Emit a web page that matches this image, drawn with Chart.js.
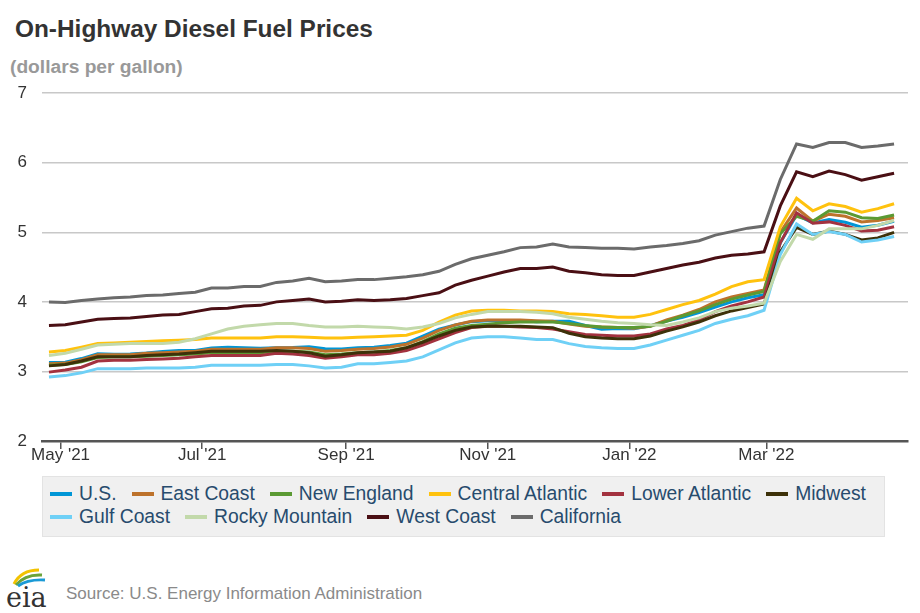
<!DOCTYPE html>
<html>
<head>
<meta charset="utf-8">
<script src="https://cdn.jsdelivr.net/npm/chart.js@4.4.1/dist/chart.umd.min.js"></script>
<style>
  html, body { margin: 0; padding: 0; background: #fff; }
  #wrap { position: relative; width: 920px; height: 613px; overflow: hidden; font-family: "Liberation Sans", Arial, sans-serif; }
  #title { position: absolute; left: 15px; top: 16.5px; font-size: 24.4px; line-height: 24px; font-weight: bold; color: #333; white-space: nowrap; }
  #subtitle { position: absolute; left: 10px; top: 57px; font-size: 19.2px; line-height: 20px; font-weight: bold; color: #999; white-space: nowrap; }
  #chartBox { position: absolute; left: 0; top: 68px; width: 920px; height: 403px; }
  #legend { position: absolute; left: 42px; top: 476px; width: 843px; height: 61px; box-sizing: border-box; background: #f0f0f0; border: 1px solid #e3e3e3; padding: 5px 0 0 7px; display: flex; flex-wrap: wrap; align-content: flex-start; column-gap: 15px; }
  .item { display: flex; align-items: center; height: 23px; font-size: 19.3px; color: #274b6d; white-space: nowrap; }
  .sw { width: 22px; height: 4px; margin-right: 7px; }
  #source { position: absolute; left: 66px; top: 584.5px; font-size: 17px; line-height: 17px; color: #8a8a8a; white-space: nowrap; }
  #logo { position: absolute; left: 5px; top: 564px; }
</style>
</head>
<body>
<div id="wrap">
  <div id="title">On-Highway Diesel Fuel Prices</div>
  <div id="subtitle">(dollars per gallon)</div>
  <div id="chartBox"><canvas id="c"></canvas></div>
  <div id="legend"></div>
  <svg id="logo" width="46" height="46" viewBox="0 0 46 46">
    <path d="M9 20 Q16 6 34 6" stroke="#f2c200" stroke-width="3" fill="none"/>
    <path d="M11 21 Q20 10 37 11" stroke="#6aa33a" stroke-width="3" fill="none"/>
    <path d="M13 22 Q23 15 40 16" stroke="#1a9ad6" stroke-width="3" fill="none"/>
    <text x="1" y="43" font-family="DejaVu Serif, Liberation Serif, serif" font-size="27" fill="#333">eia</text>
  </svg>
  <div id="source">Source: U.S. Energy Information Administration</div>
</div>
<script>
// ---- data ----
const weekDates = [
  '2021-04-26','2021-05-03','2021-05-10','2021-05-17','2021-05-24','2021-05-31','2021-06-07','2021-06-14','2021-06-21','2021-06-28',
  '2021-07-05','2021-07-12','2021-07-19','2021-07-26','2021-08-02','2021-08-09','2021-08-16','2021-08-23','2021-08-30','2021-09-06',
  '2021-09-13','2021-09-20','2021-09-27','2021-10-04','2021-10-11','2021-10-18','2021-10-25','2021-11-01','2021-11-08','2021-11-15',
  '2021-11-22','2021-11-29','2021-12-06','2021-12-13','2021-12-20','2021-12-27','2022-01-03','2022-01-10','2022-01-17','2022-01-24',
  '2022-01-31','2022-02-07','2022-02-14','2022-02-21','2022-02-28','2022-03-07','2022-03-14','2022-03-21','2022-03-28','2022-04-04',
  '2022-04-11','2022-04-18','2022-04-25'
];

const usValues = [3.130,3.131,3.185,3.253,3.247,3.250,3.264,3.286,3.300,3.300,
  3.338,3.346,3.339,3.334,3.339,3.344,3.356,3.327,3.324,3.339,
  3.348,3.374,3.406,3.506,3.609,3.667,3.716,3.727,3.730,3.734,
  3.715,3.721,3.721,3.660,3.608,3.617,3.613,3.657,3.725,3.780,
  3.846,3.924,4.000,4.060,4.104,4.849,5.250,5.134,5.185,5.144,
  5.073,5.101,5.160];
const eastCoast = [3.11,3.12,3.17,3.24,3.24,3.24,3.26,3.27,3.28,3.29,
  3.32,3.32,3.32,3.32,3.34,3.34,3.33,3.29,3.30,3.32,
  3.33,3.35,3.39,3.48,3.59,3.67,3.72,3.74,3.74,3.74,
  3.73,3.72,3.68,3.65,3.64,3.63,3.62,3.65,3.74,3.81,
  3.89,4.00,4.07,4.12,4.17,5.00,5.35,5.16,5.26,5.23,
  5.15,5.17,5.21];
const newEngland = [3.09,3.10,3.14,3.20,3.21,3.21,3.22,3.23,3.24,3.25,
  3.27,3.27,3.27,3.27,3.29,3.29,3.28,3.24,3.25,3.27,
  3.28,3.30,3.34,3.43,3.54,3.62,3.66,3.68,3.70,3.71,
  3.71,3.71,3.69,3.66,3.64,3.63,3.63,3.65,3.72,3.80,
  3.87,3.96,4.04,4.10,4.15,4.98,5.23,5.16,5.31,5.29,
  5.21,5.20,5.25];
const centralAtlantic = [3.28,3.30,3.35,3.40,3.41,3.42,3.43,3.44,3.45,3.46,
  3.48,3.48,3.48,3.48,3.50,3.50,3.49,3.48,3.48,3.49,
  3.50,3.51,3.52,3.59,3.71,3.81,3.87,3.88,3.88,3.87,
  3.87,3.86,3.83,3.82,3.80,3.78,3.78,3.82,3.89,3.96,
  4.02,4.11,4.22,4.29,4.32,5.08,5.49,5.31,5.41,5.37,
  5.29,5.34,5.41];
const lowerAtlantic = [2.99,3.02,3.06,3.15,3.16,3.16,3.17,3.18,3.19,3.21,
  3.23,3.23,3.23,3.23,3.26,3.25,3.23,3.19,3.21,3.24,
  3.24,3.26,3.30,3.38,3.47,3.56,3.63,3.65,3.65,3.64,
  3.63,3.61,3.57,3.53,3.52,3.51,3.51,3.54,3.61,3.66,
  3.74,3.86,3.94,4.00,4.07,4.85,5.28,5.13,5.15,5.10,
  5.02,5.03,5.08];
const midwest = [3.08,3.10,3.15,3.21,3.21,3.21,3.23,3.24,3.25,3.27,
  3.29,3.29,3.29,3.29,3.30,3.29,3.27,3.22,3.24,3.27,
  3.28,3.29,3.34,3.42,3.51,3.59,3.64,3.65,3.65,3.65,
  3.64,3.63,3.55,3.50,3.48,3.47,3.47,3.51,3.58,3.64,
  3.71,3.80,3.87,3.92,3.97,4.72,5.07,4.97,5.02,4.97,
  4.89,4.92,5.00];
const gulfCoast = [2.92,2.94,2.98,3.04,3.04,3.04,3.05,3.05,3.05,3.06,
  3.09,3.09,3.09,3.09,3.10,3.10,3.08,3.05,3.06,3.11,
  3.11,3.13,3.15,3.21,3.31,3.41,3.48,3.50,3.50,3.48,
  3.46,3.46,3.40,3.36,3.34,3.33,3.33,3.38,3.45,3.52,
  3.59,3.69,3.75,3.80,3.88,4.68,5.12,4.97,5.01,4.97,
  4.86,4.89,4.94];
const rockyMountain = [3.23,3.26,3.32,3.38,3.39,3.40,3.40,3.40,3.42,3.47,
  3.54,3.61,3.65,3.67,3.69,3.69,3.66,3.64,3.64,3.65,
  3.64,3.63,3.61,3.64,3.69,3.77,3.82,3.86,3.86,3.86,
  3.85,3.83,3.78,3.75,3.72,3.70,3.69,3.67,3.66,3.71,
  3.77,3.86,3.91,3.94,3.98,4.58,4.97,4.90,5.05,5.05,
  5.05,5.10,5.17];
const westCoast = [3.66,3.67,3.71,3.75,3.76,3.77,3.79,3.81,3.82,3.86,
  3.90,3.91,3.94,3.95,4.00,4.02,4.04,4.00,4.01,4.03,
  4.02,4.03,4.05,4.09,4.13,4.24,4.31,4.37,4.43,4.48,
  4.48,4.50,4.44,4.42,4.39,4.38,4.38,4.43,4.48,4.53,
  4.57,4.63,4.67,4.69,4.72,5.38,5.87,5.80,5.88,5.83,
  5.75,5.80,5.85];
const california = [4.00,3.99,4.02,4.04,4.06,4.07,4.09,4.10,4.12,4.14,
  4.20,4.20,4.22,4.22,4.28,4.30,4.34,4.29,4.30,4.32,
  4.32,4.34,4.36,4.39,4.44,4.54,4.62,4.67,4.72,4.78,
  4.79,4.83,4.79,4.78,4.77,4.77,4.76,4.79,4.81,4.84,
  4.88,4.96,5.01,5.06,5.09,5.76,6.27,6.22,6.29,6.29,
  6.22,6.24,6.27];

const seriesNames = ['U.S.','East Coast','New England','Central Atlantic','Lower Atlantic','Midwest','Gulf Coast','Rocky Mountain','West Coast','California'];
const seriesValues = [usValues,eastCoast,newEngland,centralAtlantic,lowerAtlantic,midwest,gulfCoast,rockyMountain,westCoast,california];
const seriesColors = ['#0096d6','#bd722b','#5b9a33','#ffc20e','#a3323f','#3d3109','#6fd0f6','#c2d9aa','#4a0f14','#6b6b6b'];

const tickDates = ['2021-05-01','2021-07-01','2021-09-01','2021-11-01','2022-01-01','2022-03-01'];
const tickLabels = ["May '21","Jul '21","Sep '21","Nov '21","Jan '22","Mar '22"];
const xRange = ['2021-04-23','2022-05-01'];
const yTicks = [2,3,4,5,6,7];

// ---- helpers ----
const dayNum = s => Date.UTC(+s.slice(0,4), +s.slice(5,7)-1, +s.slice(8,10)) / 86400000;
const xs = weekDates.map(dayNum);
const tickVals = tickDates.map(dayNum);

Chart.defaults.font.family = '"Liberation Sans", Arial, sans-serif';

const N = seriesNames.length;
const datasets = seriesNames.map((name, i) => ({
  label: name,
  data: seriesValues[i].map((v, k) => ({ x: xs[k], y: v })),
  borderColor: seriesColors[i],
  backgroundColor: seriesColors[i],
  borderWidth: 3,
  pointRadius: 0,
  tension: 0,
  fill: false,
  order: N - 1 - i
}));

new Chart(document.getElementById('c'), {
  type: 'line',
  data: { datasets },
  options: {
    responsive: true,
    maintainAspectRatio: false,
    animation: false,
    layout: { padding: { top: 0, right: 12, left: 0, bottom: 0 } },
    plugins: { legend: { display: false }, tooltip: { enabled: false } },
    scales: {
      x: {
        type: 'linear',
        min: dayNum(xRange[0]),
        max: dayNum(xRange[1]),
        afterBuildTicks: s => { s.ticks = tickVals.map(v => ({ value: v })); },
        afterFit: s => { s.height = 30; },
        grid: { drawOnChartArea: false, drawTicks: true, tickLength: 8, color: '#555', lineWidth: 1.5 },
        border: { display: true, color: '#555', width: 2.5 },
        ticks: {
          autoSkip: false, maxRotation: 0, padding: -4,
          color: '#333', font: { size: 17 },
          callback: v => { const k = tickVals.indexOf(v); return k >= 0 ? tickLabels[k] : ''; }
        }
      },
      y: {
        min: yTicks[0],
        max: yTicks[yTicks.length - 1],
        afterBuildTicks: s => { s.ticks = yTicks.map(v => ({ value: v })); },
        afterFit: s => { s.width = 42; },
        grid: { color: '#c8c8c8', lineWidth: 1.5, drawTicks: false },
        border: { display: false },
        ticks: { padding: 15, color: '#333', font: { size: 17 } }
      }
    }
  }
});

// ---- legend ----
const lg = document.getElementById('legend');
seriesNames.forEach((name, i) => {
  const it = document.createElement('div');
  it.className = 'item';
  const sw = document.createElement('span');
  sw.className = 'sw';
  sw.style.background = seriesColors[i];
  it.appendChild(sw);
  it.appendChild(document.createTextNode(name));
  lg.appendChild(it);
});
</script>
</body>
</html>
